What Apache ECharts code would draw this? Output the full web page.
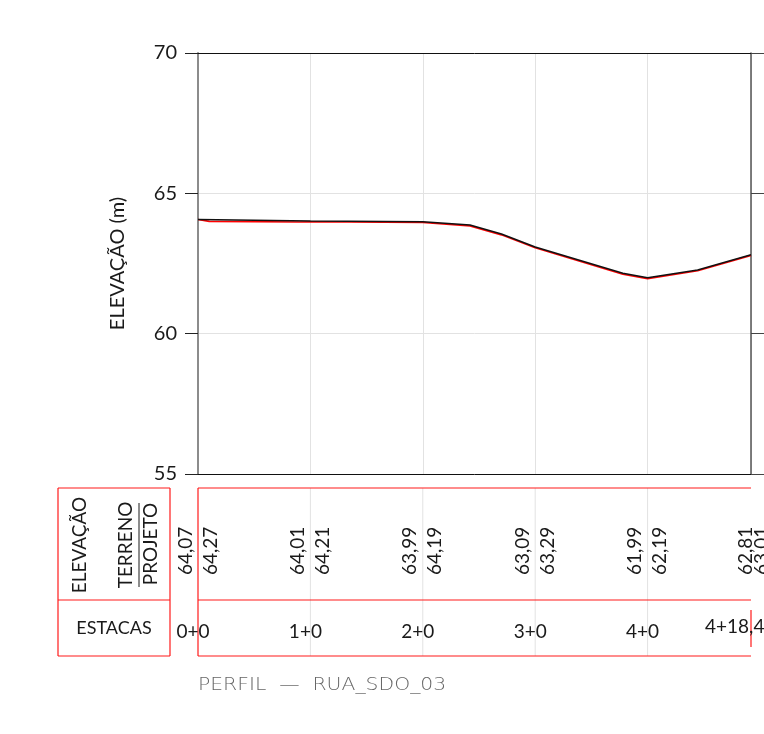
<!DOCTYPE html>
<html><head><meta charset="utf-8">
<script src="https://cdn.jsdelivr.net/npm/echarts@6/dist/echarts.min.js"></script>
<style>html,body{margin:0;padding:0;background:#fff}#c{width:764px;height:734px}</style>
</head><body><div id="c"></div>
<script>
const terrenoStations = [0, 20, 40, 48.4, 54, 60, 75.6, 80, 88.9, 98.4];
const terrenoElev = [64.07, 64.01, 63.99, 63.87, 63.55, 63.09, 62.15, 61.99, 62.27, 62.81];
const projetoStations = [0, 2, 18, 20, 40, 48.4, 54, 60, 75.6, 80, 88.9, 98.4];
const projetoElev = [64.07, 64.0, 63.98, 63.99, 63.96, 63.84, 63.52, 63.06, 62.12, 61.96, 62.24, 62.79];
const estacaPos = [0, 20, 40, 60, 80, 98.4];
const estacaLabels = ['0+0', '1+0', '2+0', '3+0', '4+0', '4+18,40'];
const terrenoLabels = ['64,07', '64,01', '63,99', '63,09', '61,99', '62,81'];
const projetoLabels = ['64,27', '64,21', '64,19', '63,29', '62,19', '63,01'];
const yMin = 55, yMax = 70, yStep = 5;
const xMax = 98.4;
const titleText = 'PERFIL  —  RUA_SDO_03';
const yName = 'ELEVAÇÃO (m)';

const FONT = 'Lato';
const chart = echarts.init(document.getElementById('c'), null, {renderer: 'canvas'});

function pairs(xs, ys) { return xs.map((x, i) => [x, ys[i]]); }

chart.setOption({
  animation: false,
  backgroundColor: '#fff',
  grid: {left: 198, right: 13, top: 53, bottom: 260, containLabel: false},
  xAxis: [
    {type: 'value', min: 0, max: xMax, interval: 20, position: 'bottom',
     axisLine: {show: true, onZero: false, lineStyle: {color: '#111', width: 1}},
     axisTick: {show: false}, axisLabel: {show: false},
     splitLine: {show: true, lineStyle: {color: '#e2e2e2', width: 1}}},
    {type: 'value', min: 0, max: xMax, position: 'top',
     axisLine: {show: true, onZero: false, lineStyle: {color: '#111', width: 1}},
     axisTick: {show: false}, axisLabel: {show: false}, splitLine: {show: false}}
  ],
  yAxis: [
    {type: 'value', min: yMin, max: yMax, interval: yStep, position: 'left',
     name: yName, nameLocation: 'middle', nameGap: 70, nameRotate: 90,
     nameTextStyle: {fontFamily: FONT, fontSize: 20, color: '#1a1a1a'},
     axisLine: {show: true, onZero: false, lineStyle: {color: '#8c8c8c', width: 2}},
     axisTick: {show: true, inside: false, length: 13, lineStyle: {color: '#222', width: 1}},
     axisLabel: {margin: 21, fontFamily: FONT, fontSize: 20, color: '#1a1a1a'},
     splitLine: {show: true, lineStyle: {color: '#e2e2e2', width: 1}}},
    {type: 'value', min: yMin, max: yMax, interval: yStep, position: 'right',
     axisLine: {show: true, onZero: false, lineStyle: {color: '#555', width: 1.5}},
     axisTick: {show: true, inside: false, length: 13, lineStyle: {color: '#444', width: 1}},
     axisLabel: {show: false}, splitLine: {show: false}}
  ],
  series: [
    {type: 'line', name: 'PROJETO', data: pairs(projetoStations, projetoElev), showSymbol: false, symbol: 'none',
     lineStyle: {color: '#ff0000', width: 1.6}, z: 2},
    {type: 'line', name: 'TERRENO', data: pairs(terrenoStations, terrenoElev), showSymbol: false, symbol: 'none',
     lineStyle: {color: '#111', width: 1.5}, z: 3}
  ]
});

function buildTable() {
  const px = v => chart.convertToPixel({xAxisIndex: 0}, v);
  const x0 = px(0), x1 = px(xMax);
  const tTop = 488, tMid = 600, tBot = 656, hL = 58, hR = 170;
  const red = '#ff1a1a';
  const g = [];
  const line = (xa, ya, xb, yb, color, w) => g.push({type: 'line', shape: {x1: xa, y1: ya, x2: xb, y2: yb},
    style: {stroke: color, lineWidth: w || 1}, silent: true});
  const text = (t, x, y, opts) => g.push(Object.assign({type: 'text', x: x, y: y, silent: true,
    style: Object.assign({text: t, fontFamily: FONT, fontSize: 19, fill: '#1a1a1a',
      textAlign: 'center', textVerticalAlign: 'middle', align: 'center', verticalAlign: 'middle'}, opts.style || {})},
    opts.rotation !== undefined ? {rotation: opts.rotation} : {},
    opts.scaleX !== undefined ? {scaleX: opts.scaleX} : {}));

  estacaPos.forEach((s, i) => { if (i > 0 && i < estacaPos.length - 1) line(px(s), tTop, px(s), tBot, '#e2e2e2', 1); });

  line(hL, tTop, hR, tTop, red, 1.2);
  line(hL, tBot, hR, tBot, red, 1.2);
  line(hL, tTop, hL, tBot, red, 1.2);
  line(hR, tTop, hR, tBot, red, 1.2);
  line(hL, tMid, hR, tMid, red, 1.2);
  line(x0, tTop, x1, tTop, red, 1.2);
  line(x0, tMid, x1, tMid, red, 1.2);
  line(x0, tBot, x1, tBot, red, 1.2);
  line(x0, tTop, x0, tBot, red, 1.2);
  line(x1, 610, x1, 647, red, 1.2);

  text('ELEVAÇÃO', 80, 545, {rotation: Math.PI / 2});
  text('TERRENO', 126, 545, {rotation: Math.PI / 2});
  text('PROJETO', 151, 544, {rotation: Math.PI / 2});
  line(139, 503, 139, 587, '#1a1a1a', 1);
  text('ESTACAS', 114, 628, {style: {fontSize: 18}});

  const n = estacaPos.length;
  estacaPos.forEach((s, i) => {
    const p = px(s);
    const last = i === n - 1;
    text(terrenoLabels[i], p + (last ? -5.5 : -12.5), 575,
      {rotation: Math.PI / 2, style: {textAlign: 'left', align: 'left'}});
    text(projetoLabels[i], p + (last ? 11 : 12.5), 575,
      {rotation: Math.PI / 2, style: {textAlign: 'left', align: 'left'}});
    if (last) {
      text(estacaLabels[i], p - 46, 627, {style: {textAlign: 'left', align: 'left'}});
    } else {
      text(estacaLabels[i], p - 5, 632, {});
    }
  });

  text(titleText, x0, 685, {scaleX: 1.13, style: {textAlign: 'left', align: 'left', fontFamily: 'DejaVu Sans', fontWeight: 200,
    fontSize: 18, fill: '#666'}});

  chart.setOption({graphic: {elements: g}});
}
buildTable();
</script>
</body></html>
